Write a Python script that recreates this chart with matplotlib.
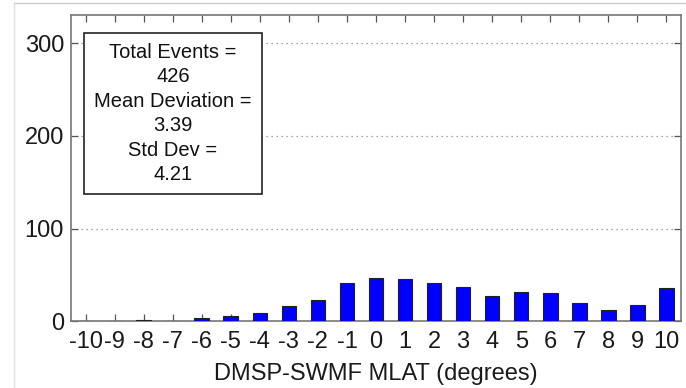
import numpy as np
import matplotlib
matplotlib.use("Agg")
import matplotlib.pyplot as plt
from matplotlib.lines import Line2D

plt.rcParams["font.family"] = ["Liberation Sans", "DejaVu Sans"]

# histogram of DMSP-SWMF MLAT deviation
mlat_bins = list(range(-10, 11))
counts = [0, 0, 1, 0, 3, 6, 9, 17, 23, 41, 47, 46, 41, 37, 27, 32, 30, 20, 12, 18, 36]
y_ticks = [0, 100, 200, 300]
stats_text = "Total Events =\n426\nMean Deviation =\n3.39\nStd Dev =\n4.21"

fig = plt.figure(figsize=(6.86, 3.88), dpi=100)
ax = fig.add_axes([0.1035, 0.172, 0.8892, 0.7886])

ax.bar(mlat_bins, counts, width=0.5, color="#0000FF", edgecolor="#202020", linewidth=0.8, zorder=3)

ax.set_xlim(-10.5, 10.5)
ax.set_ylim(0, 330)
ax.set_xticks(mlat_bins)
ax.set_xticklabels([str(v) for v in mlat_bins])
ax.set_yticks(y_ticks)
ax.tick_params(direction="in", length=5, width=0.9, color="#555555", labelsize=17,
               labelcolor="#1a1a1a", top=True, right=True)
ax.tick_params(axis="y", pad=5)
ax.tick_params(axis="x", pad=7)

for y in y_ticks[1:]:
    ax.axhline(y, color="#888888", linestyle=(0, (1, 3)), linewidth=0.9, zorder=1)

for s in ax.spines.values():
    s.set_color("#777777")
    s.set_linewidth(1.2)

ax.set_xlabel("DMSP-SWMF MLAT (degrees)", fontsize=17, color="#1a1a1a", labelpad=7)

ax.text(0.167, 0.679, stats_text, transform=ax.transAxes, ha="center", va="center",
        fontsize=14.5, linespacing=1.36, color="#111111", zorder=5,
        bbox=dict(boxstyle="square,pad=0.52", facecolor="white", edgecolor="#222222", linewidth=1.2))

# outer frame lines from the screenshot
fig.add_artist(Line2D([14 / 686, 1], [1 - 3 / 388, 1 - 3 / 388], transform=fig.transFigure,
                      color="#cccccc", linewidth=1))
fig.add_artist(Line2D([14 / 686, 14 / 686], [0, 1 - 3 / 388], transform=fig.transFigure,
                      color="#e0e0e0", linewidth=1))

fig.savefig("out.png", dpi=100)
